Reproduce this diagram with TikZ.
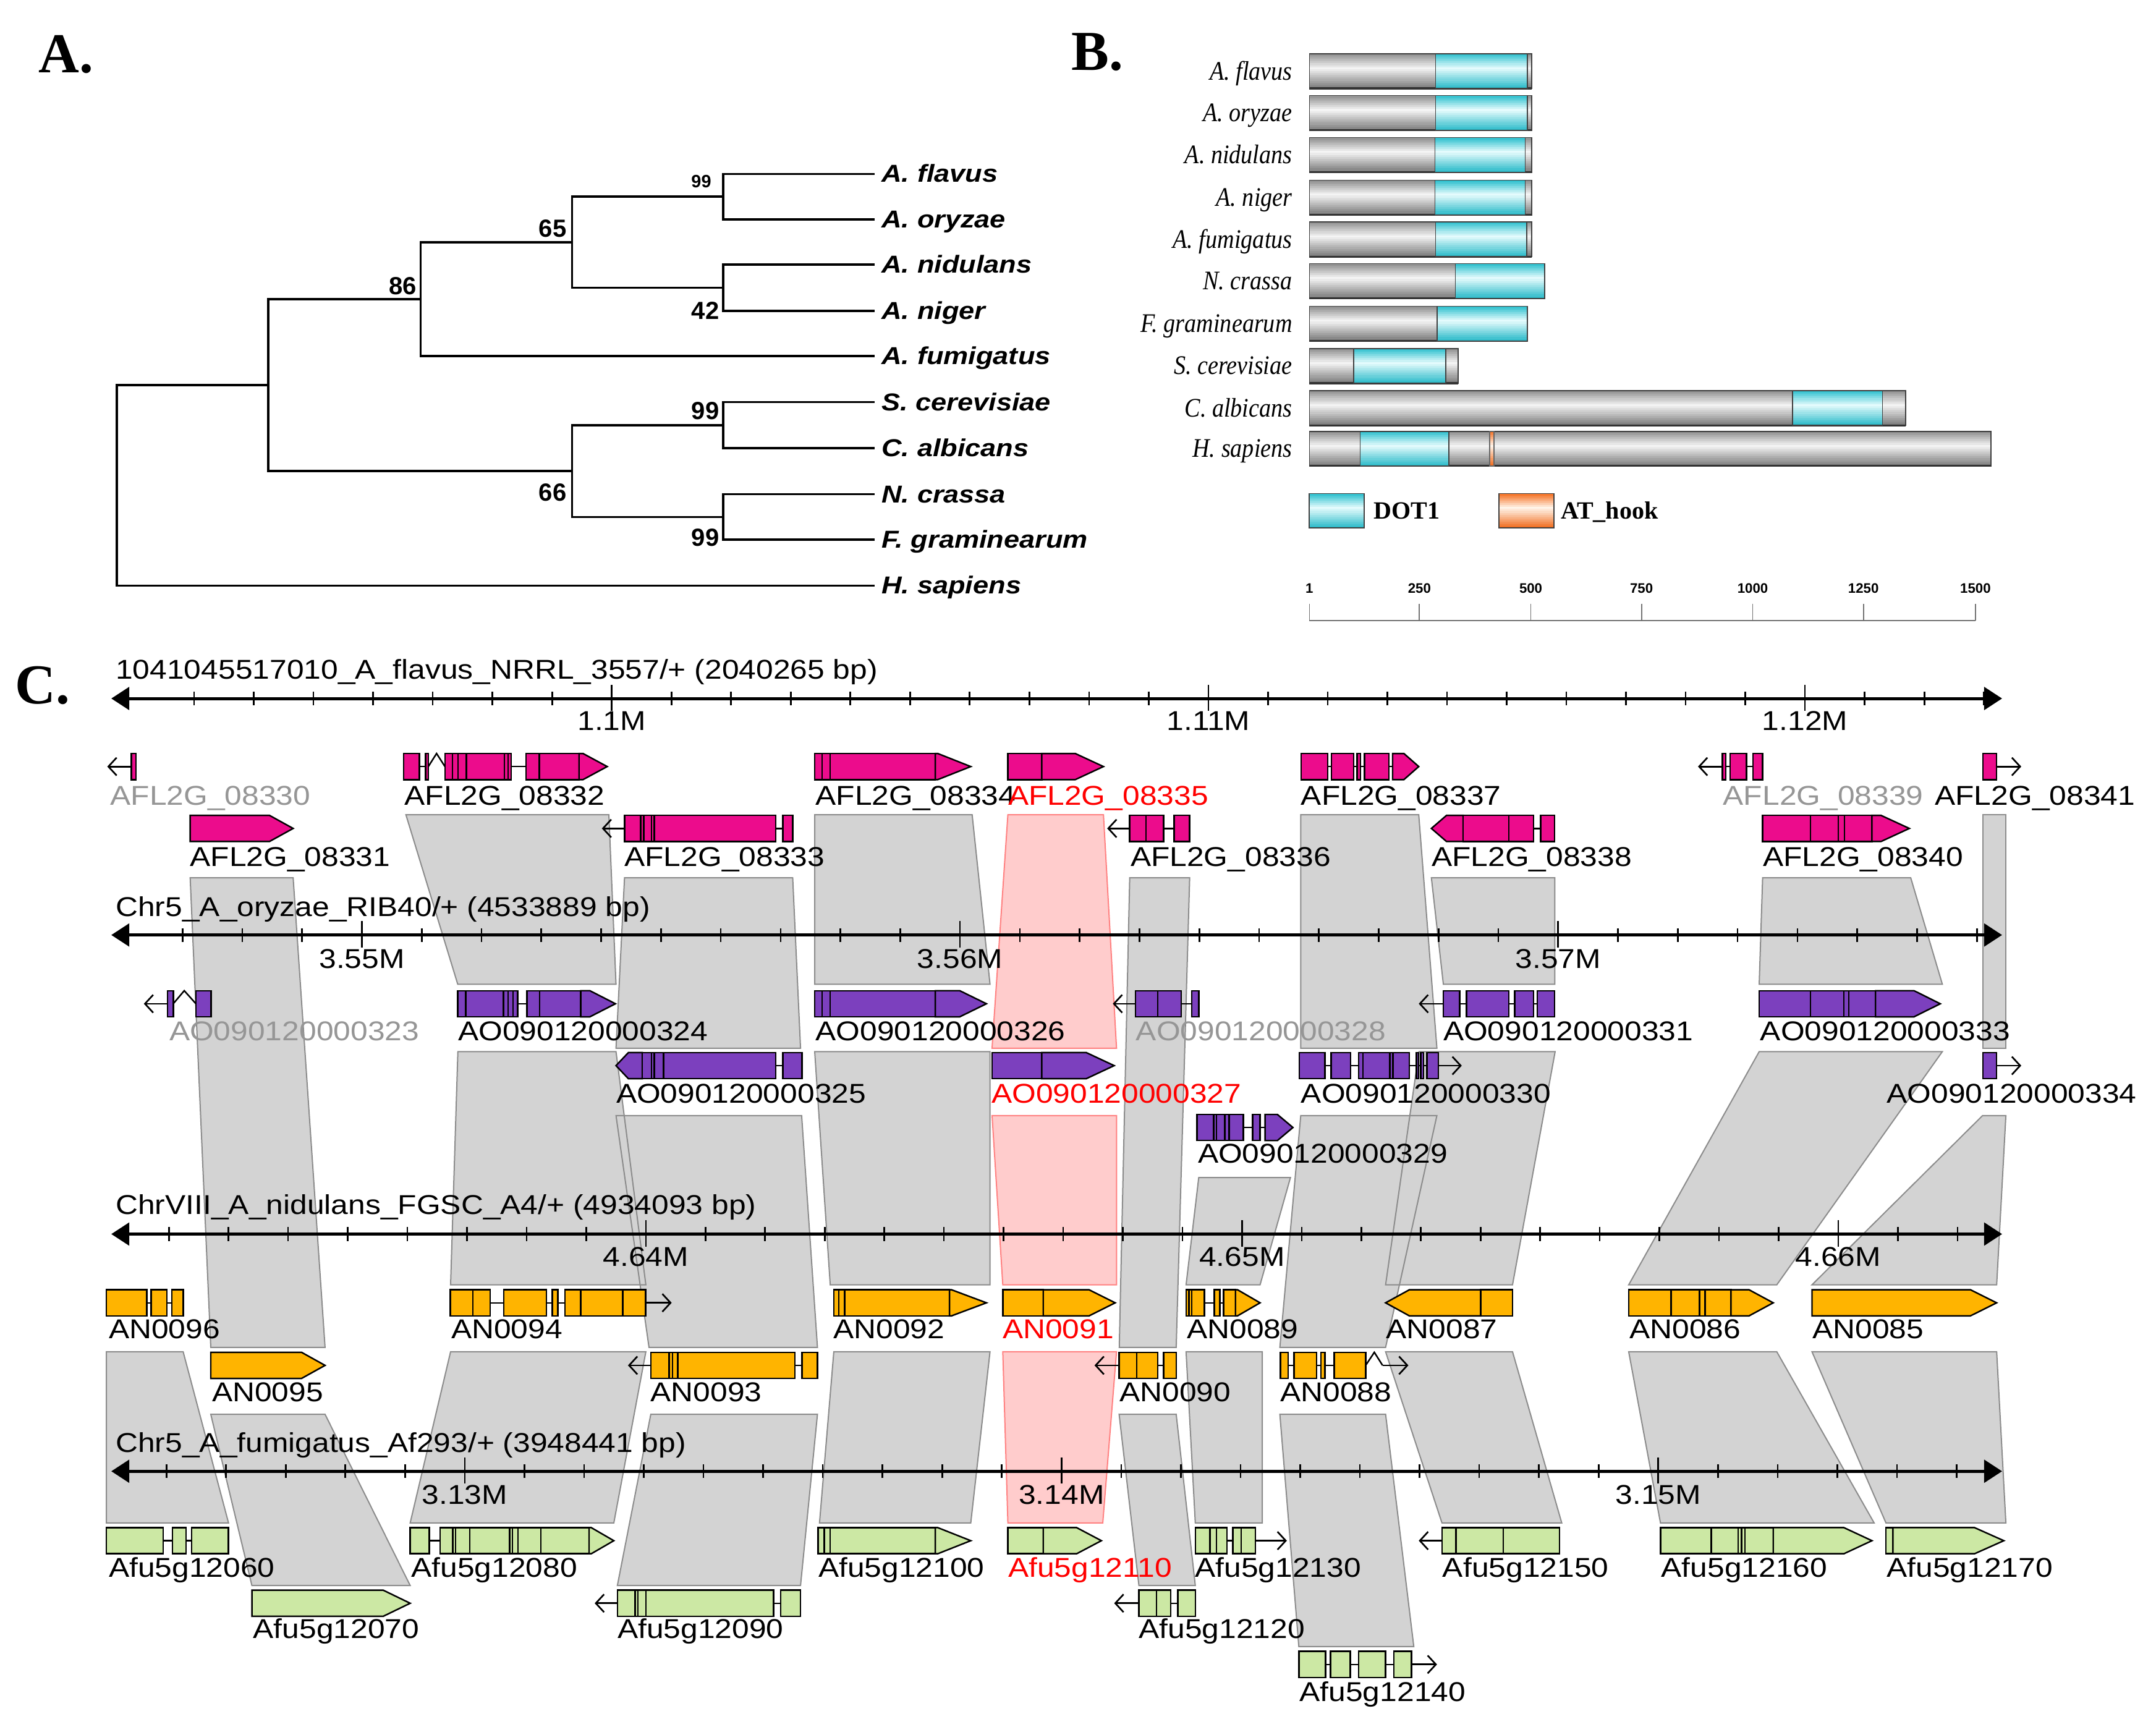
\documentclass[tikz,border=0pt]{standalone}
\usepackage{fontspec}
\setmainfont{Liberation Serif}
\newfontfamily\labf[FakeStretch=1.13]{Liberation Sans}
\newfontfamily\treef[FakeStretch=1.14]{Liberation Sans}
\newfontfamily\numf{Liberation Sans}
\newfontfamily\serifn[FakeStretch=0.88]{Liberation Serif}
\usetikzlibrary{arrows.meta}
\definecolor{magA}{RGB}{236,12,140}
\definecolor{purB}{RGB}{124,64,190}
\definecolor{orC}{RGB}{255,180,0}
\definecolor{grD}{RGB}{204,232,164}
\definecolor{labgray}{RGB}{150,150,150}
\definecolor{ribgray}{RGB}{211,211,211}
\definecolor{ribline}{RGB}{140,140,140}
\definecolor{pinkfill}{RGB}{255,204,204}
\definecolor{pinkline}{RGB}{255,130,130}
\definecolor{gtop}{RGB}{140,140,140}
\definecolor{gmid}{RGB}{245,245,245}
\definecolor{gbot}{RGB}{120,120,120}
\definecolor{ctop}{RGB}{40,190,205}
\definecolor{cmid}{RGB}{230,252,253}
\definecolor{cbot}{RGB}{40,185,200}
\definecolor{otop}{RGB}{245,110,30}
\definecolor{omid}{RGB}{255,245,235}
\definecolor{obot}{RGB}{240,105,25}
\def\gc{magA}
\def\gy{0}
\tikzset{
  exon/.style={draw=black,line width=1.1pt,fill=\gc,line join=miter},
  intr/.style={draw=black,line width=1.1pt},
  oarr/.style={draw=black,line width=1.2pt,-{Straight Barb[length=6pt,width=13pt]}},
  glab/.style={anchor=base west,inner sep=0pt,font=\labf\fontsize{19.8}{22}\selectfont},
  tlab/.style={anchor=base,inner sep=0pt,font=\labf\fontsize{19.8}{22}\selectfont},
  treelab/.style={anchor=base west,inner sep=0pt,font=\treef\bfseries\itshape\fontsize{17.8}{19}\selectfont},
  boot/.style={inner sep=0pt,font=\numf\bfseries\fontsize{18}{18}\selectfont},
  treeln/.style={draw=black,line width=1.6pt},
  panel/.style={anchor=base west,inner sep=0pt,font=\bfseries\fontsize{41}{41}\selectfont},
  blab/.style={anchor=base east,inner sep=0pt,font=\serifn\itshape\fontsize{19.5}{20}\selectfont},
  leglab/.style={anchor=base west,inner sep=0pt,font=\bfseries\fontsize{18}{18}\selectfont},
  scalelab/.style={inner sep=0pt,font=\numf\bfseries\fontsize{10}{10}\selectfont},
  barline/.style={draw=black!75,line width=0.8pt},
  axln/.style={draw=black,line width=2.2pt},
  tickln/.style={draw=black,line width=1.2pt},
  ribbonfill/.style={fill=ribgray},
  ribbonline/.style={draw=ribline,line width=0.9pt},
}
% vertical gradient made of thin strips: x1,y1,x2,y2,top,mid,bottom
\newcommand\gradBar[7]{%
  \foreach \gi in {0,...,17}{%
    \pgfmathsetmacro\gT{(\gi+0.5)/18}%
    \pgfmathsetmacro\gP{\gT<0.42 ? 100*\gT/0.42 : 100*(1-(\gT-0.42)/0.58)}%
    \ifdim\gT pt<0.42pt \colorlet{stripc}{#6!\gP!#5}\else\colorlet{stripc}{#6!\gP!#7}\fi
    \fill[stripc] (#1,{#2+(#4-#2)*\gi/18}) rectangle (#3,{min(#4,#2+(#4-#2)*(\gi+1)/18+0.4)});
  }%
}
\newcommand\gEx[2]{\draw[exon] ({#1},{\gy-9.5}) rectangle ({#2},{\gy+9.5});}
\newcommand\gPR[3]{\draw[exon] ({#1},{\gy-9.5}) -- ({#2},{\gy-9.5}) -- ({#3},{\gy}) -- ({#2},{\gy+9.5}) -- ({#1},{\gy+9.5}) -- cycle;}
\newcommand\gPL[3]{\draw[exon] ({#3},{\gy-9.5}) -- ({#2},{\gy-9.5}) -- ({#1},{\gy}) -- ({#2},{\gy+9.5}) -- ({#3},{\gy+9.5}) -- cycle;}
\newcommand\gIn[2]{\draw[intr] ({#1},{\gy}) -- ({#2},{\gy});}
\newcommand\gCa[3]{\draw[intr] ({#1},{\gy}) -- ({#2},{\gy-9.5}) -- ({#3},{\gy});}
\newcommand\gAr[2]{\draw[oarr] ({#1},{\gy}) -- ({#2},{\gy});}
\newcommand\ribFill[6]{\fill[ribbonfill] (#1,#3) -- (#2,#3) -- (#5,#6) -- (#4,#6) -- cycle;}
\newcommand\ribDraw[6]{\draw[ribbonline] (#1,#3) -- (#2,#3) -- (#5,#6) -- (#4,#6) -- cycle;}
\newcommand\pinkRib[6]{\fill[pinkfill] (#1,#3) -- (#2,#3) -- (#5,#6) -- (#4,#6) -- cycle;
  \draw[draw=pinkline,line width=0.9pt] (#1,#3) -- (#2,#3) -- (#5,#6) -- (#4,#6) -- cycle;}
\newcommand\allRibs{%
  \myRib{295.2}{442.8}{592.5}{332.9}{448}{715.8}%
  \myRib{454.2}{576.5}{638.4}{448}{582.2}{762.3}%
  \myRib{592.5}{707}{592.5}{592.5}{720}{715.8}%
  \myRib{946}{1031.8}{592.5}{946}{1045}{762.3}%
  \myRib{1041}{1130.7}{638.4}{1049.7}{1130.7}{715.8}%
  \myRib{1281.9}{1389.6}{638.4}{1279.4}{1412.6}{715.8}%
  \myRib{1441.9}{1458.8}{592.5}{1441.9}{1458.8}{762.3}%
  \myRib{138.3}{213.2}{638.4}{153.3}{236.4}{979.9}%
  \myRib{821.6}{865.2}{638.4}{814}{855.4}{979.9}%
  \myRib{333}{448}{764.8}{327.7}{469.7}{934.4}%
  \myRib{448}{583}{811.3}{472}{594.5}{979.9}%
  \myRib{592.5}{720}{764.8}{603.8}{720}{934.4}%
  \myRib{871.8}{938.5}{856.4}{862.6}{916.4}{934.4}%
  \myRib{946}{1045}{811.3}{930.8}{1007.7}{979.9}%
  \myRib{1032}{1131}{764.8}{1007.7}{1100}{934.4}%
  \myRib{1279.4}{1412.6}{764.8}{1184.5}{1292.2}{934.4}%
  \myRib{1441.9}{1458.8}{811.3}{1317.8}{1452.1}{934.4}%
  \myRib{77.4}{133.2}{983.1}{77.4}{166.2}{1107.6}%
  \myRib{153.3}{236.4}{1028.6}{183.2}{298.3}{1153.1}%
  \myRib{327.7}{469.7}{983.1}{298.3}{446.4}{1107.6}%
  \myRib{473.3}{594.5}{1028.6}{449}{582.2}{1153.1}%
  \myRib{606.4}{720}{983.1}{596}{706}{1107.6}%
  \myRib{813.9}{855.4}{1028.6}{828.3}{869.3}{1153.1}%
  \myRib{862.6}{918}{983.1}{869.3}{918}{1107.6}%
  \myRib{930.8}{1007.7}{1028.6}{944.6}{1028.2}{1197.5}%
  \myRib{1007.7}{1100}{983.1}{1048.7}{1135.8}{1107.6}%
  \myRib{1184.5}{1292.2}{983.1}{1207.6}{1363}{1107.6}%
  \myRib{1317.8}{1452.1}{983.1}{1371.6}{1458.8}{1107.6}%
}
\newcommand\trackAxis[5]{%
  \draw[axln] (86,#1) -- (1451,#1);
  \fill ({81},{#1}) -- ({94},{#1-8.5}) -- ({94},{#1+8.5}) -- cycle;
  \fill ({1456},{#1}) -- ({1443},{#1-8.5}) -- ({1443},{#1+8.5}) -- cycle;
  \foreach \k in {#4,...,#5}{\draw[tickln] ({#2+(\k)*#3},{#1-5}) -- ({#2+(\k)*#3},{#1+5});}
  \foreach \k in {0,10,20}{\draw[tickln] ({#2+(\k)*#3},{#1-10}) -- ({#2+(\k)*#3},{#1+9});}
}
\newcommand\bBar[4]{%
  \gradBar{952.3}{#1}{#4}{#1+25.3}{gtop}{gmid}{gbot}
  \draw[barline] (952.3,#1) rectangle (#4,{#1+25.3});
  \draw[draw=black!80,line width=1.4pt] (952.3,{#1+25.3}) -- (#4,{#1+25.3});
  \gradBar{#2}{#1}{#3}{#1+25.3}{ctop}{cmid}{cbot}
  \draw[barline] (#2,#1) rectangle (#3,{#1+25.3});
}
\begin{document}
\begin{tikzpicture}[x=1pt,y=-1pt]
\useasboundingbox[fill=white] (0,0) rectangle (1568,1256);

% ---------------- Panel A ----------------
\node[panel] (pA) at (28,53) {A.};
\coordinate (Lflav) at (636,126.5);
\coordinate (Lory) at (636,159.5);
\coordinate (Lnid) at (636,192.5);
\coordinate (Lnig) at (636,226);
\coordinate (Lfum) at (636,259);
\coordinate (Lscer) at (636,292.5);
\coordinate (Lcalb) at (636,326);
\coordinate (Lncr) at (636,359.5);
\coordinate (Lfgr) at (636,392.5);
\coordinate (Lhsap) at (636,426);
\coordinate (n1) at (526,143);
\coordinate (n2) at (526,209.25);
\coordinate (n3) at (416,176.1);
\coordinate (n4) at (306,217.6);
\coordinate (n5) at (526,309.25);
\coordinate (n6) at (526,376);
\coordinate (n7) at (416,342.6);
\coordinate (n8) at (195,280.1);
\coordinate (n0) at (85,353);
\draw[treeln] (n1) |- (Lflav); \draw[treeln] (n1) |- (Lory);
\draw[treeln] (n2) |- (Lnid); \draw[treeln] (n2) |- (Lnig);
\draw[treeln] (n3) |- (n1); \draw[treeln] (n3) |- (n2);
\draw[treeln] (n4) |- (n3); \draw[treeln] (n4) |- (Lfum);
\draw[treeln] (n5) |- (Lscer); \draw[treeln] (n5) |- (Lcalb);
\draw[treeln] (n6) |- (Lncr); \draw[treeln] (n6) |- (Lfgr);
\draw[treeln] (n7) |- (n5); \draw[treeln] (n7) |- (n6);
\draw[treeln] (n8) |- (n4); \draw[treeln] (n8) |- (n7);
\draw[treeln] (n0) |- (n8); \draw[treeln] (n0) |- (Lhsap);
\node[treelab] (tflav) at (641,132.5) {A. flavus};
\node[treelab] (tory) at (641,165.5) {A. oryzae};
\node[treelab] (tnid) at (641,198.5) {A. nidulans};
\node[treelab] (tnig) at (641,232) {A. niger};
\node[treelab] (tfum) at (641,265) {A. fumigatus};
\node[treelab] (tscer) at (641,298.5) {S. cerevisiae};
\node[treelab] (tcalb) at (641,332) {C. albicans};
\node[treelab] (tncr) at (641,365.5) {N. crassa};
\node[treelab] (tfgr) at (641,398.5) {F. graminearum};
\node[treelab] (thsap) at (641,432) {H. sapiens};
\node[boot,font=\numf\bfseries\fontsize{13}{13}\selectfont] (b1) at (510,132) {99};
\node[boot] (b2) at (402,166) {65};
\node[boot] (b3) at (293,208) {86};
\node[boot] (b4) at (513,226) {42};
\node[boot] (b5) at (513,299) {99};
\node[boot] (b6) at (402,358) {66};
\node[boot] (b7) at (513,391) {99};

% ---------------- Panel B ----------------
\node[panel] (pB) at (779,51) {B.};
\bBar{39}{1044}{1110.7}{1113.8}
\bBar{69.5}{1044}{1110.7}{1113.8}
\bBar{100}{1043.6}{1109.2}{1113.8}
\bBar{131}{1043.6}{1109.2}{1113.8}
\bBar{161.3}{1044}{1110.3}{1113.8}
\bBar{191.7}{1058.4}{1123.5}{1123.5}
\bBar{222.7}{1045.1}{1110.7}{1110.7}
\bBar{253.4}{984.6}{1051.3}{1060.5}
\bBar{284.1}{1303.5}{1369.1}{1386}
\bBar{313.6}{989.2}{1053.8}{1448}
\gradBar{1083.5}{313.6}{1086.6}{338.9}{otop}{omid}{obot}
\draw[barline,draw=black!60] (1083.5,313.6) rectangle (1086.6,338.9);
\node[blab] (sflav) at (940,58) {A. flavus};
\node[blab] (sory) at (940,88.5) {A. oryzae};
\node[blab] (snid) at (940,119) {A. nidulans};
\node[blab] (snig) at (940,150) {A. niger};
\node[blab] (sfum) at (940,180.3) {A. fumigatus};
\node[blab] (sncr) at (940,210.7) {N. crassa};
\node[blab] (sfgr) at (940,241.7) {F. graminearum};
\node[blab] (sscer) at (940,272.4) {S. cerevisiae};
\node[blab] (scalb) at (940,303.1) {C. albicans};
\node[blab] (shsap) at (940,332.6) {H. sapiens};
\gradBar{952}{359}{992}{384}{ctop}{cmid}{cbot}
\draw[barline] (952,359) rectangle (992,384);
\node[leglab] (legdot) at (999,377.5) {DOT1};
\gradBar{1090}{359}{1130}{384}{otop}{omid}{obot}
\draw[barline] (1090,359) rectangle (1130,384);
\node[leglab] (legat) at (1135,377.5) {AT\_hook};
\draw[draw=black!55,line width=0.8pt] (952.3,451.5) -- (1436.7,451.5);
\foreach \xx in {952.3,1032.3,1113.3,1193.8,1274.7,1355.2,1436.7}
  {\draw[draw=black!55,line width=0.8pt] (\xx,439) -- (\xx,451.5);}
\node[scalelab] (s1) at (952.3,428) {1};
\node[scalelab] (s250) at (1032.3,428) {250};
\node[scalelab] (s500) at (1113.3,428) {500};
\node[scalelab] (s750) at (1193.8,428) {750};
\node[scalelab] (s1000) at (1274.7,428) {1000};
\node[scalelab] (s1250) at (1355.2,428) {1250};
\node[scalelab] (s1500) at (1436.7,428) {1500};

% ---------------- Panel C ----------------
\node[panel] (pC) at (11,512) {C.};
% ribbons
\let\myRib\ribFill \allRibs
\let\myRib\ribDraw \allRibs
\pinkRib{733}{802.5}{592.5}{721.5}{812}{762.3}
\pinkRib{721.5}{812}{811.3}{729.3}{812}{934.4}
\pinkRib{729.3}{812}{983.1}{733}{802}{1107.6}

% axes
\trackAxis{508}{444.9}{43.39}{-7}{23}
\trackAxis{680}{263.2}{43.5}{-3}{27}
\trackAxis{897.5}{469.7}{43.36}{-8}{22}
\trackAxis{1070}{338}{43.4}{-5}{25}
\node[glab] (ttl1) at (84,494) {1041045517010\_A\_flavus\_NRRL\_3557/+ (2040265 bp)};
\node[glab] (ttl2) at (84,666.5) {Chr5\_A\_oryzae\_RIB40/+ (4533889 bp)};
\node[glab] (ttl3) at (84,883) {ChrVIII\_A\_nidulans\_FGSC\_A4/+ (4934093 bp)};
\node[glab] (ttl4) at (84,1056) {Chr5\_A\_fumigatus\_Af293/+ (3948441 bp)};
\node[tlab] (m11) at (444.9,531) {1.1M};
\node[tlab] (m12) at (878.8,531) {1.11M};
\node[tlab] (m13) at (1312.7,531) {1.12M};
\node[tlab] (m21) at (263.2,704) {3.55M};
\node[tlab] (m22) at (698.2,704) {3.56M};
\node[tlab] (m23) at (1133.2,704) {3.57M};
\node[tlab] (m31) at (469.7,921) {4.64M};
\node[tlab] (m32) at (903.3,921) {4.65M};
\node[tlab] (m33) at (1336.9,921) {4.66M};
\node[tlab] (m41) at (338,1094) {3.13M};
\node[tlab] (m42) at (772,1094) {3.14M};
\node[tlab] (m43) at (1206,1094) {3.15M};

% ---- track 1 genes (A. flavus) ----
\def\gc{magA}
\def\gy{557.5}
\gAr{96}{78} \gEx{95.5}{99}
\gEx{293.5}{305} \gIn{305}{309.5} \gEx{309.5}{311.5} \gCa{311.5}{317.5}{323.6}
\gEx{323.6}{329.1} \gEx{329.1}{333.2} \gEx{333.2}{339.2} \gEx{339.2}{366.9}
\gEx{366.9}{369.5} \gEx{369.5}{371.7} \gIn{371.7}{382.6} \gEx{382.6}{392.2}
\gEx{392.2}{421.1} \gPR{421.1}{424}{441.6}
\gEx{592.5}{598} \gEx{598}{603.8} \gEx{603.8}{680.2} \gPR{680.2}{682}{706}
\gEx{733}{757.6} \gPR{757.6}{782}{802.5}
\gEx{946.2}{965.6} \gIn{965.6}{968.2} \gEx{968.2}{984.6} \gIn{984.6}{987} \gEx{987}{989.5}
\gIn{989.5}{992.3} \gEx{992.3}{1010.2} \gIn{1010.2}{1012.8} \gPR{1012.8}{1021}{1031.8}
\gAr{1252.6}{1234.9} \gEx{1252.6}{1255} \gIn{1255}{1258.2} \gEx{1258.2}{1270.2}
\gIn{1270.2}{1275} \gEx{1275}{1281.8}
\gEx{1442}{1452} \gAr{1452}{1470}
\def\gy{602.5}
\gPR{138.3}{196}{213.2}
\gAr{454.2}{437.7} \gEx{454.2}{466} \gEx{466}{468.1} \gEx{468.1}{473.8} \gEx{473.8}{475.8}
\gEx{475.8}{564.1} \gIn{564.1}{569.3} \gEx{569.3}{576.5}
\gAr{821.6}{805.2} \gEx{821.6}{833.4} \gEx{833.4}{846.2} \gIn{846.2}{853.9} \gEx{853.9}{865.2}
\gPL{1041}{1052}{1064.1} \gEx{1064.1}{1097.4} \gEx{1097.4}{1115.3} \gIn{1115.3}{1120.5} \gEx{1120.5}{1130.7}
\gEx{1281.9}{1316.8} \gEx{1316.8}{1337} \gEx{1337}{1341.5} \gEx{1341.5}{1361.4} \gPR{1361.4}{1368}{1388.6}
\node[glab,text=labgray] (l08330) at (80,585.5) {AFL2G\_08330};
\node[glab] (l08332) at (294,585.5) {AFL2G\_08332};
\node[glab] (l08334) at (593,585.5) {AFL2G\_08334};
\node[glab,text=red] (l08335) at (733,585.5) {AFL2G\_08335};
\node[glab] (l08337) at (946,585.5) {AFL2G\_08337};
\node[glab,text=labgray] (l08339) at (1253,585.5) {AFL2G\_08339};
\node[glab] (l08341) at (1407,585.5) {AFL2G\_08341};
\node[glab] (l08331) at (138,630) {AFL2G\_08331};
\node[glab] (l08333) at (454,630) {AFL2G\_08333};
\node[glab] (l08336) at (822,630) {AFL2G\_08336};
\node[glab] (l08338) at (1041,630) {AFL2G\_08338};
\node[glab] (l08340) at (1282,630) {AFL2G\_08340};

% ---- track 2 genes (A. oryzae) ----
\def\gc{purB}
\def\gy{730}
\gAr{121.8}{104.6} \gEx{121.8}{126} \gCa{126}{134}{142.5} \gEx{142.5}{153.5}
\gEx{332.9}{338.8} \gEx{338.8}{366.2} \gEx{366.2}{369.6} \gEx{369.6}{373} \gEx{373}{376.5}
\gIn{376.5}{383.3} \gEx{383.3}{392.5} \gEx{392.5}{422.4} \gPR{422.4}{429}{447.6}
\gEx{592.5}{598} \gEx{598}{603.8} \gEx{603.8}{680.2} \gPR{680.2}{698}{717.4}
\gAr{825.7}{809.3} \gEx{825.7}{842} \gEx{842}{859} \gIn{859}{866.7} \gEx{866.7}{871.8}
\gAr{1049.7}{1031.8} \gEx{1049.7}{1061.5} \gIn{1061.5}{1066.6} \gEx{1066.6}{1097.4}
\gIn{1097.4}{1101.5} \gEx{1101.5}{1115.3} \gIn{1115.3}{1117.9} \gEx{1117.9}{1130.7}
\gEx{1279.4}{1316.8} \gEx{1316.8}{1340.9} \gEx{1340.9}{1344.5} \gEx{1344.5}{1364} \gPR{1364}{1392}{1411.1}
\def\gy{775}
\gPL{448}{457}{467.1} \gEx{467.1}{473.8} \gEx{473.8}{475.8} \gEx{475.8}{482.5}
\gEx{482.5}{564.1} \gIn{564.1}{569.3} \gEx{569.3}{583.2}
\gEx{721.5}{757.6} \gPR{757.6}{790}{810.3}
\gEx{944.8}{963.5} \gIn{963.5}{968} \gEx{968}{982.2} \gIn{982.2}{988.2} \gEx{988.2}{991.2}
\gEx{991.2}{1010.7} \gEx{1010.7}{1013} \gEx{1013}{1025} \gIn{1025}{1030.2} \gEx{1030.2}{1031.7}
\gIn{1031.7}{1033.2} \gEx{1033.2}{1035.4} \gIn{1035.4}{1037.7} \gEx{1037.7}{1046} \gAr{1046}{1063.1}
\gEx{1442}{1452} \gAr{1452}{1470}
\def\gy{820}
\gEx{870.6}{882.6} \gEx{882.6}{884.8} \gEx{884.8}{890.8} \gEx{890.8}{893.8} \gEx{893.8}{904.3}
\gIn{904.3}{911} \gEx{911}{916.3} \gIn{916.3}{920} \gPR{920}{929}{940.3}
\node[glab,text=labgray] (lao323) at (123,757) {AO090120000323};
\node[glab] (lao324) at (333,757) {AO090120000324};
\node[glab] (lao326) at (593,757) {AO090120000326};
\node[glab,text=labgray] (lao328) at (826,757) {AO090120000328};
\node[glab] (lao331) at (1049.5,757) {AO090120000331};
\node[glab] (lao333) at (1280,757) {AO090120000333};
\node[glab] (lao325) at (448,802) {AO090120000325};
\node[glab,text=red] (lao327) at (721,802) {AO090120000327};
\node[glab] (lao330) at (946,802) {AO090120000330};
\node[glab] (lao334) at (1372,802) {AO090120000334};
\node[glab] (lao329) at (871,846) {AO090120000329};

% ---- track 3 genes (A. nidulans) ----
\def\gc{orC}
\def\gy{947.5}
\gEx{77.4}{106.8} \gIn{106.8}{109.9} \gEx{109.9}{121.3} \gIn{121.3}{124.9} \gEx{124.9}{133.2}
\gEx{327.4}{343.9} \gEx{343.9}{356.4} \gIn{356.4}{366.4} \gEx{366.4}{397.4} \gIn{397.4}{401.6}
\gEx{401.6}{405.8} \gIn{405.8}{410.9} \gEx{410.9}{422.3} \gEx{422.3}{453} \gEx{453}{469.5} \gAr{469.5}{488.5}
\gEx{606.4}{610} \gEx{610}{614.2} \gEx{614.2}{690.5} \gPR{690.5}{692}{717.4}
\gEx{729.3}{758.7} \gPR{758.7}{792}{811}
\gEx{862.6}{864.6} \gEx{864.6}{866.7} \gEx{866.7}{876} \gIn{876}{883.1} \gEx{883.1}{887.2}
\gIn{887.2}{889.8} \gEx{889.8}{898.5} \gPR{898.5}{900}{916.4}
\gPL{1007.7}{1025}{1076.9} \gEx{1076.9}{1100}
\gEx{1184.5}{1215.3} \gEx{1215.3}{1236} \gEx{1236}{1240} \gEx{1240}{1258.9} \gPR{1258.9}{1272}{1289.6}
\gPR{1317.8}{1433}{1452.1}
\def\gy{993}
\gPR{153.3}{219.3}{236.4}
\gAr{473.3}{456.7} \gEx{473.3}{486.7} \gEx{486.7}{489} \gEx{489}{493} \gEx{493}{578}
\gIn{578}{583.2} \gEx{583.2}{594.5}
\gAr{813.9}{796} \gEx{813.9}{826.7} \gEx{826.7}{842.1} \gIn{842.1}{846.2} \gEx{846.2}{855.4}
\gEx{931.3}{936.9} \gIn{936.9}{941.1} \gEx{941.1}{957.6} \gIn{957.6}{960.6} \gEx{960.6}{963.6}
\gIn{963.6}{970.3} \gEx{970.3}{993.2} \gCa{993.2}{999.5}{1005.5} \gAr{1005.5}{1024.3}
\node[glab] (lan96) at (79,973.5) {AN0096};
\node[glab] (lan94) at (328,973.5) {AN0094};
\node[glab] (lan92) at (606,973.5) {AN0092};
\node[glab,text=red] (lan91) at (729,973.5) {AN0091};
\node[glab] (lan89) at (863,973.5) {AN0089};
\node[glab] (lan87) at (1008,973.5) {AN0087};
\node[glab] (lan86) at (1185,973.5) {AN0086};
\node[glab] (lan85) at (1318,973.5) {AN0085};
\node[glab] (lan95) at (154,1019.5) {AN0095};
\node[glab] (lan93) at (473,1019.5) {AN0093};
\node[glab] (lan90) at (814,1019.5) {AN0090};
\node[glab] (lan88) at (931,1019.5) {AN0088};

% ---- track 4 genes (A. fumigatus) ----
\def\gc{grD}
\def\gy{1120.5}
\gEx{77.4}{118.7} \gIn{118.7}{125.4} \gEx{125.4}{135.2} \gIn{135.2}{139.3} \gEx{139.3}{166.2}
\gEx{298.3}{312.2} \gIn{312.2}{320} \gEx{320}{329.3} \gEx{329.3}{331.3} \gEx{331.3}{341.7}
\gEx{341.7}{370.6} \gEx{370.6}{372.6} \gEx{372.6}{376.8} \gEx{376.8}{393.3} \gEx{393.3}{428.4}
\gPR{428.4}{430}{446.4}
\gEx{595}{599.5} \gEx{599.5}{603.8} \gEx{603.8}{680.2} \gPR{680.2}{682}{706}
\gEx{733}{758.7} \gPR{758.7}{783}{801}
\gEx{869.3}{880} \gEx{880}{884.7} \gEx{884.7}{892.4} \gIn{892.4}{896.5} \gEx{896.5}{902.6}
\gEx{902.6}{912.9} \gAr{912.9}{935.9}
\gAr{1048.7}{1031.8} \gEx{1048.7}{1058.9} \gEx{1058.9}{1093.3} \gEx{1093.3}{1134.3}
\gEx{1207.6}{1244.5} \gEx{1244.5}{1264} \gEx{1264}{1266.5} \gEx{1266.5}{1269.1} \gEx{1269.1}{1289.6}
\gPR{1289.6}{1341}{1361.4}
\gEx{1371.6}{1376.7} \gPR{1376.7}{1436}{1457.3}
\def\gy{1166}
\gPR{183.2}{278.7}{298.3}
\gAr{449}{432.5} \gEx{449}{461.9} \gEx{461.9}{464} \gEx{464}{469.7} \gEx{469.7}{562.5}
\gIn{562.5}{567.7} \gEx{567.7}{582.2}
\gAr{828.3}{810.3} \gEx{828.3}{841.1} \gEx{841.1}{851.3} \gIn{851.3}{856.5} \gEx{856.5}{869.3}
\def\gy{1210.5}
\gEx{944.6}{964.1} \gIn{964.1}{967.7} \gEx{967.7}{982.1} \gIn{982.1}{988.2} \gEx{988.2}{1007.7}
\gIn{1007.7}{1013.8} \gEx{1013.8}{1026.6} \gAr{1026.6}{1045.1}
\node[glab] (lf60) at (79,1147) {Afu5g12060};
\node[glab] (lf80) at (299,1147) {Afu5g12080};
\node[glab] (lf100) at (595,1147) {Afu5g12100};
\node[glab,text=red] (lf110) at (733,1147) {Afu5g12110};
\node[glab] (lf130) at (869,1147) {Afu5g12130};
\node[glab] (lf150) at (1049,1147) {Afu5g12150};
\node[glab] (lf160) at (1208,1147) {Afu5g12160};
\node[glab] (lf170) at (1372,1147) {Afu5g12170};
\node[glab] (lf70) at (184,1191.5) {Afu5g12070};
\node[glab] (lf90) at (449,1191.5) {Afu5g12090};
\node[glab] (lf120) at (828,1191.5) {Afu5g12120};
\node[glab] (lf140) at (945,1237.5) {Afu5g12140};
\end{tikzpicture}
\end{document}
